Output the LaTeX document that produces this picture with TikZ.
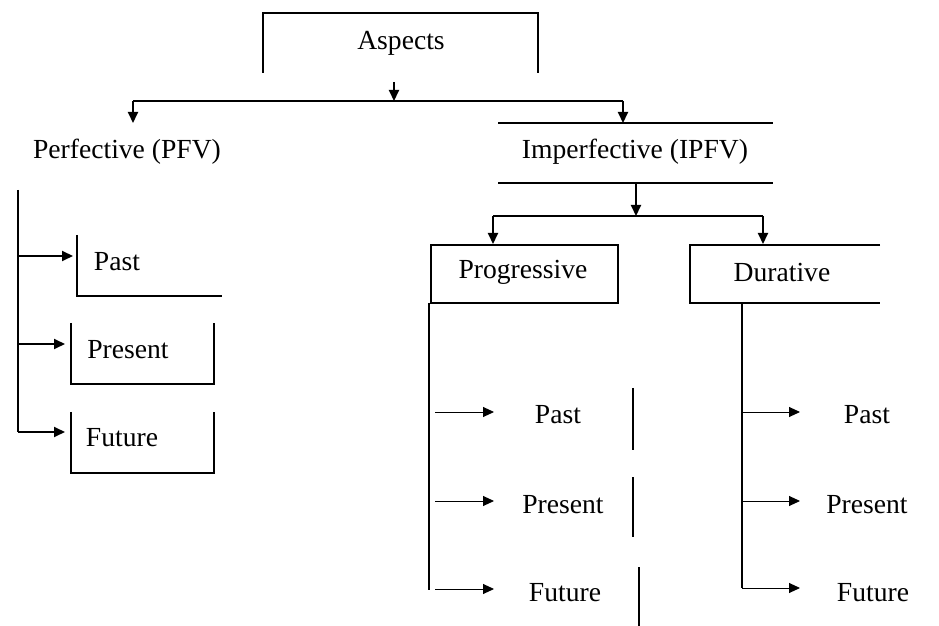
\documentclass[tikz,border=0pt]{standalone}
\usepackage{fontspec}
\setmainfont{Liberation Serif}
\usetikzlibrary{arrows.meta}
\begin{document}
\begin{tikzpicture}[x=0.5pt,y=-0.5pt,
  label/.style={inner sep=0pt,font=\fontsize{13.8}{16}\selectfont},
  frame/.style={line width=1pt},
  link/.style={line width=1pt,-{Triangle[length=5.5pt,width=5pt]}},
  thinlink/.style={line width=0.45pt,-{Triangle[length=5.5pt,width=5pt]}}]
\useasboundingbox (0,0) rectangle (939,626);

% ---- top level ----
\node[label] (aspects) at (401,43) {Aspects};
\draw[frame] (263,73) -- (263,13) -- (538,13) -- (538,73);
\coordinate (aspOut) at (394,82);
\coordinate (hub) at (394,101);
\coordinate (hubL) at (133,101);
\coordinate (hubR) at (623,101);
\draw[link] (aspOut) -- (hub);
\draw[frame] (hubL) -- (hubR);

% ---- perfective branch ----
\node[label] (pfv) at (127,152) {Perfective (PFV)};
\coordinate (pfvIn) at (133,123);
\draw[link] (hubL) -- (pfvIn);

\coordinate (pfvTop) at (18,190);
\coordinate (pfvA) at (18,256);
\coordinate (pfvB) at (18,344);
\coordinate (pfvC) at (18,432);
\draw[frame] (pfvTop) -- (pfvC);

\node[label] (ppast) at (117,262) {Past};
\node[label] (ppres) at (128,350) {Present};
\node[label] (pfut) at (122,438) {Future};
\draw[frame] (77,235) -- (77,296) -- (222,296);
\draw[frame] (71,323) -- (71,384) -- (214,384) -- (214,323);
\draw[frame] (71,412) -- (71,473) -- (214,473) -- (214,412);
\coordinate (ppastIn) at (73,256);
\coordinate (ppresIn) at (65,344);
\coordinate (pfutIn) at (65,432);
\draw[link] (pfvA) -- (ppastIn);
\draw[link] (pfvB) -- (ppresIn);
\draw[link] (pfvC) -- (pfutIn);

% ---- imperfective branch ----
\node[label] (ipfv) at (635,152) {Imperfective (IPFV)};
\draw[frame] (498,123) -- (773,123);
\draw[frame] (498,183) -- (773,183);
\coordinate (ipfvIn) at (623,123);
\draw[link] (hubR) -- (ipfvIn);

\coordinate (ipfvOut) at (636,183);
\coordinate (hub2) at (636,216);
\coordinate (hub2L) at (493,216);
\coordinate (hub2R) at (763,216);
\draw[link] (ipfvOut) -- (hub2);
\draw[frame] (hub2L) -- (hub2R);

% progressive
\node[label] (prog) at (523,272) {Progressive};
\draw[frame] (431,245) rectangle (618,303);
\coordinate (progIn) at (493,244);
\draw[link] (hub2L) -- (progIn);

\node[label] (gpast) at (558,415) {Past};
\node[label] (gpres) at (563,505) {Present};
\node[label] (gfut) at (565,593) {Future};
\coordinate (progTop) at (429,303);
\coordinate (progBot) at (429,590);
\draw[frame] (progTop) -- (progBot);
\draw[thinlink] (435,412) -- (494,412);
\draw[thinlink] (435,501) -- (494,501);
\draw[thinlink] (435,589) -- (494,589);
\draw[frame] (633,388) -- (633,450);
\draw[frame] (633,477) -- (633,537);
\draw[frame] (639,567) -- (639,626);

% durative
\node[label] (dur) at (782,272) {Durative};
\draw[frame] (880,245) -- (690,245) -- (690,303) -- (880,303);
\coordinate (durIn) at (763,244);
\draw[link] (hub2R) -- (durIn);

\node[label] (dpast) at (867,415) {Past};
\node[label] (dpres) at (867,505) {Present};
\node[label] (dfut) at (873,593) {Future};
\coordinate (durTop) at (742,303);
\coordinate (durBot) at (742,588);
\draw[frame] (durTop) -- (durBot);
\draw[thinlink] (742,412) -- (800,412);
\draw[thinlink] (742,501) -- (800,501);
\draw[thinlink] (742,588) -- (800,588);
\end{tikzpicture}
\end{document}
